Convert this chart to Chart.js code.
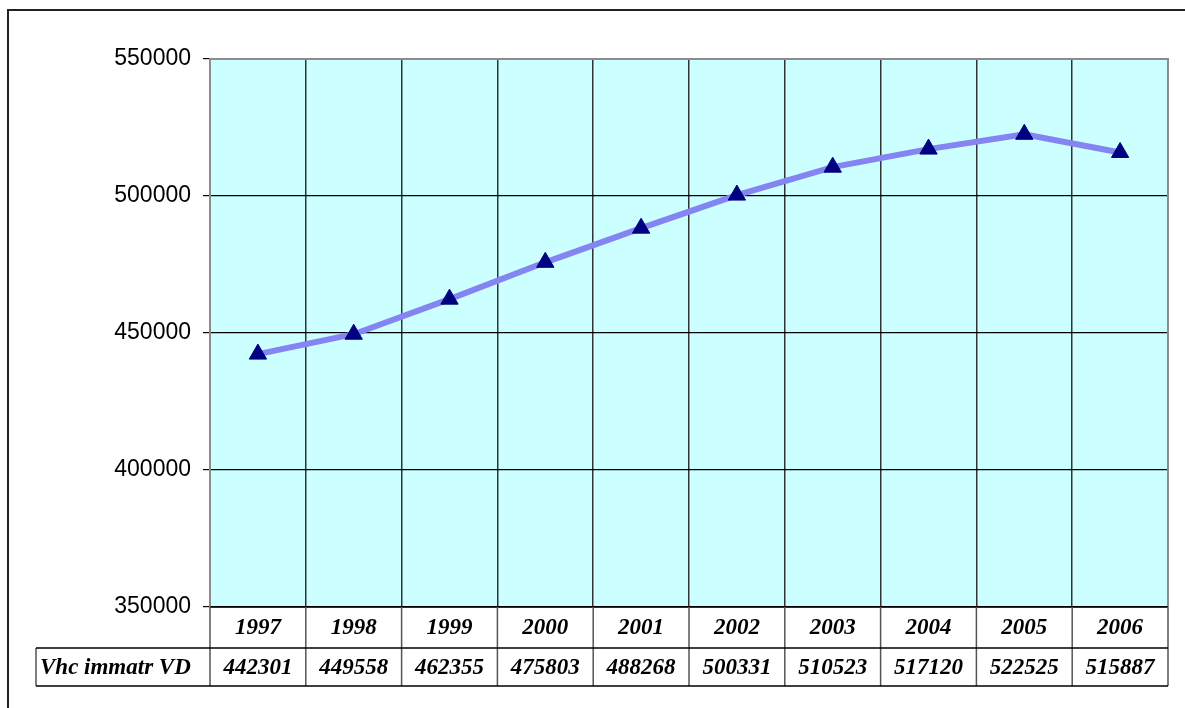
<!DOCTYPE html>
<html>
<head>
<meta charset="utf-8">
<script src="https://cdn.jsdelivr.net/npm/chart.js@4"></script>
<style>
  html, body { margin: 0; padding: 0; background: #fff; overflow: hidden; }
  #frame { position: absolute; left: 7px; top: 9px; width: 1300px; height: 800px; border: 2px solid #222; }
  #wrap { position: absolute; left: 0; top: 0; width: 1185px; height: 708px; }
</style>
</head>
<body>
<div id="frame"></div>
<div id="wrap"><canvas id="chart"></canvas></div>
<script>
// --------------------
// Data
// --------------------
const years = ["1997", "1998", "1999", "2000", "2001", "2002", "2003", "2004", "2005", "2006"];
const vehicles = [442301, 449558, 462355, 475803, 488268, 500331, 510523, 517120, 522525, 515887];
const seriesName = "Vhc immatr VD";
const yTicks = [350000, 400000, 450000, 500000, 550000];

// --------------------
// Plugins: plot background/border + data table
// --------------------
const plotFrame = {
  id: "plotFrame",
  beforeDraw(chart) {
    const { ctx, chartArea: a } = chart;
    ctx.save();
    ctx.fillStyle = "#CCFFFF";
    ctx.fillRect(a.left, a.top, a.right - a.left, a.bottom - a.top);
    ctx.restore();
  },
  beforeDatasetsDraw(chart) {
    const { ctx, chartArea: a } = chart;
    ctx.save();
    ctx.strokeStyle = "#8c8c8c";
    ctx.lineWidth = 2;
    ctx.beginPath();
    ctx.moveTo(a.left, a.bottom);
    ctx.lineTo(a.left, a.top);
    ctx.lineTo(a.right, a.top);
    ctx.lineTo(a.right, a.bottom);
    ctx.stroke();
    ctx.strokeStyle = "#000";
    ctx.lineWidth = 1.5;
    ctx.beginPath();
    ctx.moveTo(a.left, a.bottom);
    ctx.lineTo(a.right, a.bottom);
    ctx.stroke();
    ctx.restore();
  }
};

const dataTable = {
  id: "dataTable",
  afterDraw(chart) {
    const { ctx, chartArea: a } = chart;
    const xs = chart.scales.x;
    const n = years.length;
    const w = (a.right - a.left) / n;
    const r1 = a.bottom + 41;
    const r2 = r1 + 38;
    const labelLeft = 36;

    ctx.save();
    // vertical cell lines
    ctx.strokeStyle = "#555";
    ctx.lineWidth = 1.5;
    for (let i = 0; i <= n; i++) {
      const x = a.left + i * w;
      ctx.beginPath();
      ctx.moveTo(x, a.bottom);
      ctx.lineTo(x, r2);
      ctx.stroke();
    }
    ctx.beginPath();
    ctx.moveTo(labelLeft, r1);
    ctx.lineTo(labelLeft, r2);
    ctx.stroke();

    // horizontal lines
    ctx.strokeStyle = "#000";
    ctx.beginPath();
    ctx.moveTo(labelLeft, r1);
    ctx.lineTo(a.right, r1);
    ctx.moveTo(labelLeft, r2);
    ctx.lineTo(a.right, r2);
    ctx.stroke();

    // text
    ctx.fillStyle = "#000";
    ctx.font = "italic bold 23px 'Liberation Serif', 'Times New Roman', serif";
    ctx.textBaseline = "middle";
    ctx.textAlign = "center";
    years.forEach((y, i) => {
      const cx = xs.getPixelForValue(i);
      ctx.fillText(y, cx, (a.bottom + r1) / 2 + 1);
      ctx.fillText(String(vehicles[i]), cx, (r1 + r2) / 2 + 1);
    });
    ctx.textAlign = "left";
    ctx.fillText(seriesName, labelLeft + 4, (r1 + r2) / 2 + 1);
    ctx.restore();
  }
};

// --------------------
// Chart
// --------------------
new Chart(document.getElementById("chart"), {
  type: "line",
  data: {
    labels: years,
    datasets: [{
      label: seriesName,
      data: vehicles,
      borderColor: "#8484F2",
      borderWidth: 6,
      tension: 0,
      pointStyle: "triangle",
      pointRadius: 10,
      pointBackgroundColor: "#000080",
      pointBorderColor: "#000080",
      pointBorderWidth: 1
    }]
  },
  options: {
    responsive: true,
    maintainAspectRatio: false,
    animation: false,
    layout: { padding: { top: 59, right: 17, left: 0, bottom: 0 } },
    plugins: { legend: { display: false }, tooltip: { enabled: false } },
    scales: {
      x: {
        offset: true,
        grid: { offset: true, color: "#333", lineWidth: 1.5, drawTicks: false },
        border: { display: false },
        ticks: { display: false },
        afterFit: s => { s.height = 101; }
      },
      y: {
        min: yTicks[0],
        max: yTicks[yTicks.length - 1],
        afterBuildTicks: s => { s.ticks = yTicks.map(v => ({ value: v })); },
        grid: { color: "#000", lineWidth: 1.2, tickLength: 7, tickColor: "#000" },
        border: { display: false },
        ticks: {
          color: "#000",
          padding: 12,
          font: { family: "'Liberation Sans', Arial, sans-serif", size: 23 },
          callback: v => String(v)
        },
        afterFit: s => { s.width = 210; }
      }
    }
  },
  plugins: [plotFrame, dataTable]
});
</script>
</body>
</html>
